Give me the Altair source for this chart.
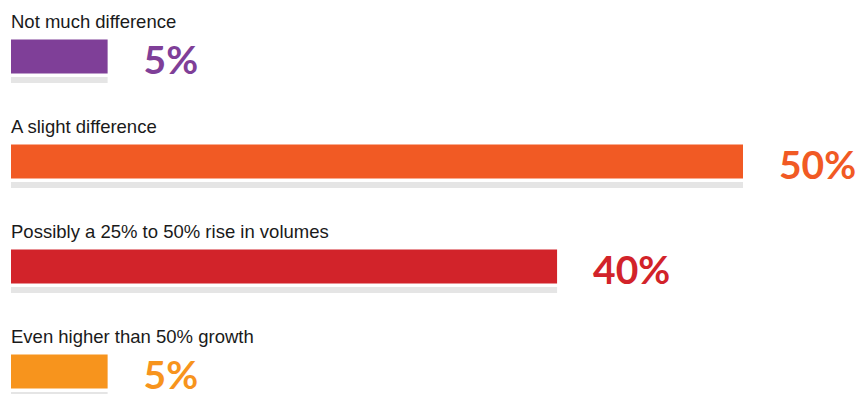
import altair as alt
import pandas as pd

categories = [
    "Not much difference",
    "A slight difference",
    "Possibly a 25% to 50% rise in volumes",
    "Even higher than 50% growth",
]
percent_labels = ["5%", "50%", "40%", "5%"]
bar_lengths = [6.6, 50, 37.3, 6.6]
colors = ["#7f3f98", "#f15a24", "#d2232a", "#f7941d"]

df = pd.DataFrame({
    "cat": categories,
    "label": percent_labels,
    "value": bar_lengths,
    "color": colors,
})

y = alt.Y("cat:N", sort=categories, axis=None,
          scale=alt.Scale(paddingInner=0, paddingOuter=0, range=[0, 420]))
x_scale = alt.Scale(domain=[0, 50], range=[3, 735])
color = alt.Color("color:N", scale=None, legend=None)

base = alt.Chart(df)

gray = base.mark_bar(height=6, yOffset=19.5, color="#e5e5e5").encode(
    x=alt.X("value:Q", scale=x_scale, axis=None), y=y)

bars = base.mark_bar(height=34, yOffset=-4).encode(
    x=alt.X("value:Q", scale=x_scale, axis=None), y=y, color=color)

cat_text = base.mark_text(align="left", baseline="middle", font="Liberation Sans",
                          fontSize=18.5, color="#1a1a1a", yOffset=-39).encode(
    x=alt.value(3), y=y, text="cat:N")

pct_text = base.mark_text(align="left", baseline="middle", font="Lato",
                          fontWeight="bold", fontSize=39, dx=36, yOffset=1).encode(
    x=alt.X("value:Q", scale=x_scale, axis=None), y=y, text="label:N", color=color)

chart = alt.layer(gray, bars, cat_text, pct_text).properties(
    width=849, height=386, padding=0
).configure_view(stroke=None)

chart.save("out.html", embed_options={"renderer": "svg", "actions": False})
